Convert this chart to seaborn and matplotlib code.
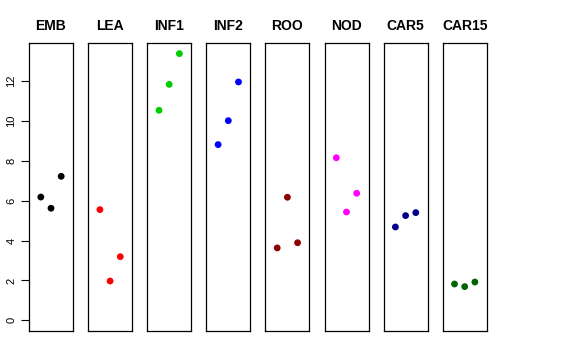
import matplotlib
matplotlib.use("Agg")
import matplotlib.pyplot as plt
import seaborn as sns
import pandas as pd

# tissues shown as panels, three replicates each
tissues = ["EMB", "LEA", "INF1", "INF2", "ROO", "NOD", "CAR5", "CAR15"]
colors = ["black", "#FF0000", "#00CD00", "#0000FF", "#8B0000", "#FF00FF", "#00008B", "#006400"]
replicate = [1, 2, 3]

emb = [6.18, 5.62, 7.22]
lea = [5.55, 1.97, 3.19]
inf1 = [10.53, 11.83, 13.37]
inf2 = [8.81, 10.01, 11.95]
roo = [3.63, 6.17, 3.89]
nod = [8.15, 5.43, 6.37]
car5 = [4.68, 5.25, 5.40]
car15 = [1.82, 1.69, 1.92]

values = [emb, lea, inf1, inf2, roo, nod, car5, car15]
yticks = [0, 2, 4, 6, 8, 10, 12]

sns.set_style("white")
plt.rcParams["font.family"] = ["Liberation Sans", "DejaVu Sans"]
plt.rcParams["text.color"] = "black"
plt.rcParams["axes.labelcolor"] = "black"

fig = plt.figure(figsize=(5.76, 3.6), dpi=100)

ymax = max(max(v) for v in values)
pad = ymax * 0.04

for i, (name, col, vals) in enumerate(zip(tissues, colors, values)):
    ax = fig.add_axes([(29 + i * 59.1) / 576, 0.0806, 44 / 576, 0.8])
    df = pd.DataFrame({"rep": replicate, "expr": vals})
    sns.scatterplot(data=df, x="rep", y="expr", color=col, s=24,
                    edgecolor="none", ax=ax)
    ax.set_xlim(-0.16, 4.16)
    ax.set_ylim(-pad, ymax + pad)
    ax.set_xticks([])
    ax.set_xlabel("")
    ax.set_ylabel("")
    ax.set_title(name, fontsize=10, fontweight="bold", pad=9, color="black")
    for sp in ax.spines.values():
        sp.set_color("black")
        sp.set_linewidth(0.9)
    if i == 0:
        ax.set_yticks(yticks)
        ax.set_yticklabels([str(t) for t in yticks], rotation=90, va="center",
                           fontsize=8)
        ax.tick_params(axis="y", left=True, length=6, width=0.8, pad=3,
                       colors="black")
    else:
        ax.set_yticks([])

fig.savefig("out.png", dpi=100)
plt.close(fig)
